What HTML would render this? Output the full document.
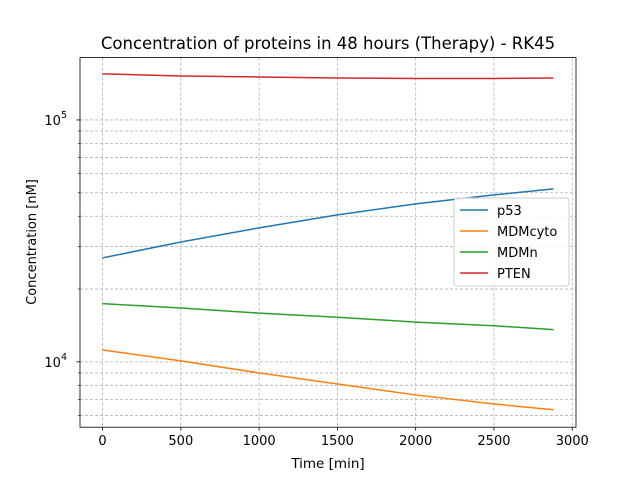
<!DOCTYPE html>
<html><head><meta charset="utf-8"><style>
body{margin:0;background:#fff}
svg{display:block;font-family:"DejaVu Sans","Liberation Sans",sans-serif}
</style></head><body>
<svg id="chart" width="640" height="480">
<text x="328" y="49" text-anchor="middle" font-size="16.5">Concentration of proteins in 48 hours (Therapy) - RK45</text>
<text x="328" y="468" text-anchor="middle" font-size="13.5">Time [min]</text>
<text transform="translate(36,242) rotate(-90)" text-anchor="middle" font-size="13">Concentration [nM]</text>
<g id="grid"></g><g id="series"></g><g id="axes"></g><g id="legend"></g>
</svg>
<script>
const times = [0, 500, 1000, 1500, 2000, 2500, 2880];
const seriesNames = ["p53", "MDMcyto", "MDMn", "PTEN"];
const p53 = [26900, 31300, 35800, 40500, 45000, 49000, 51900];
const mdmCyto = [11200, 10100, 9000, 8100, 7300, 6700, 6340];
const mdmN = [17400, 16700, 15900, 15300, 14600, 14100, 13600];
const pten = [155000, 152000, 150500, 149000, 148400, 148400, 149000];
const xTicks = [0, 500, 1000, 1500, 2000, 2500, 3000];
const yMajor = [10000, 100000];
const yMinor = [6000, 7000, 8000, 9000, 20000, 30000, 40000, 50000, 60000, 70000, 80000, 90000];
const colors = ["#1f77b4", "#ff7f0e", "#2ca02c", "#d62728"];
const L=80,R=576,T=57.6,B=427.2;
const xMin=-144,xMax=3024,yMin=Math.log10(5370),yMax=Math.log10(181000);
const xs=v=>L+(v-xMin)/(xMax-xMin)*(R-L);
const ys=v=>B-(Math.log10(v)-yMin)/(yMax-yMin)*(B-T);
const NS="http://www.w3.org/2000/svg";
function mk(tag,attrs,parent){const e=document.createElementNS(NS,tag);for(const k in attrs)e.setAttribute(k,attrs[k]);document.getElementById(parent).appendChild(e);return e;}
xTicks.forEach(t=>{const x=xs(t);
 const g=mk('line',{x1:x,x2:x,y1:T,y2:B,stroke:'#b0b0b0','stroke-dasharray':'3,2','stroke-width':0.8},'grid');
 
 
 mk('line',{x1:x,x2:x,y1:B,y2:B+3.5,stroke:'#000','stroke-width':0.8},'axes');
 const tx=mk('text',{x:x,y:B+18,'text-anchor':'middle','font-size':13},'axes');tx.textContent=t;
 
 
});
yMinor.concat(yMajor).forEach(v=>{const y=ys(v);const major=yMajor.includes(v);
 const g=mk('line',{x1:L,x2:R,y1:y,y2:y,stroke:'#b0b0b0','stroke-dasharray':'3,2','stroke-width':0.8},'grid');
 
 
 mk('line',{x1:L-(major?3.5:2),x2:L,y1:y,y2:y,stroke:'#000','stroke-width':major?0.8:0.6},'axes');
 if(major){const tx=mk('text',{x:L-13,y:y+5,'text-anchor':'end','font-size':13},'axes');
  tx.innerHTML='10<tspan dy="-7" font-size="9.5">'+Math.round(Math.log10(v))+'</tspan>';
  
  }
});
const fr=mk('rect',{x:L,y:T,width:R-L,height:B-T,fill:'none',stroke:'#000','stroke-width':0.8},'axes');


[p53,mdmCyto,mdmN,pten].forEach((s,i)=>{
 const p=mk('polyline',{points:s.map((v,j)=>xs(times[j])+','+ys(v)).join(' '),fill:'none',stroke:colors[i],'stroke-width':1.5},'series');
 
 
});
const lb=mk('rect',{x:454,y:198,width:115,height:88,rx:3,fill:'#fff','fill-opacity':0.8,stroke:'#ccc'},'legend');


seriesNames.forEach((n,i)=>{const y=210+i*21;
 const l=mk('line',{x1:460,x2:488,y1:y,y2:y,stroke:colors[i],'stroke-width':1.5},'legend');
 
 
 const t=mk('text',{x:497,y:y+5,'font-size':13},'legend');t.textContent=n;
 
 
});
</script>
</body></html>
